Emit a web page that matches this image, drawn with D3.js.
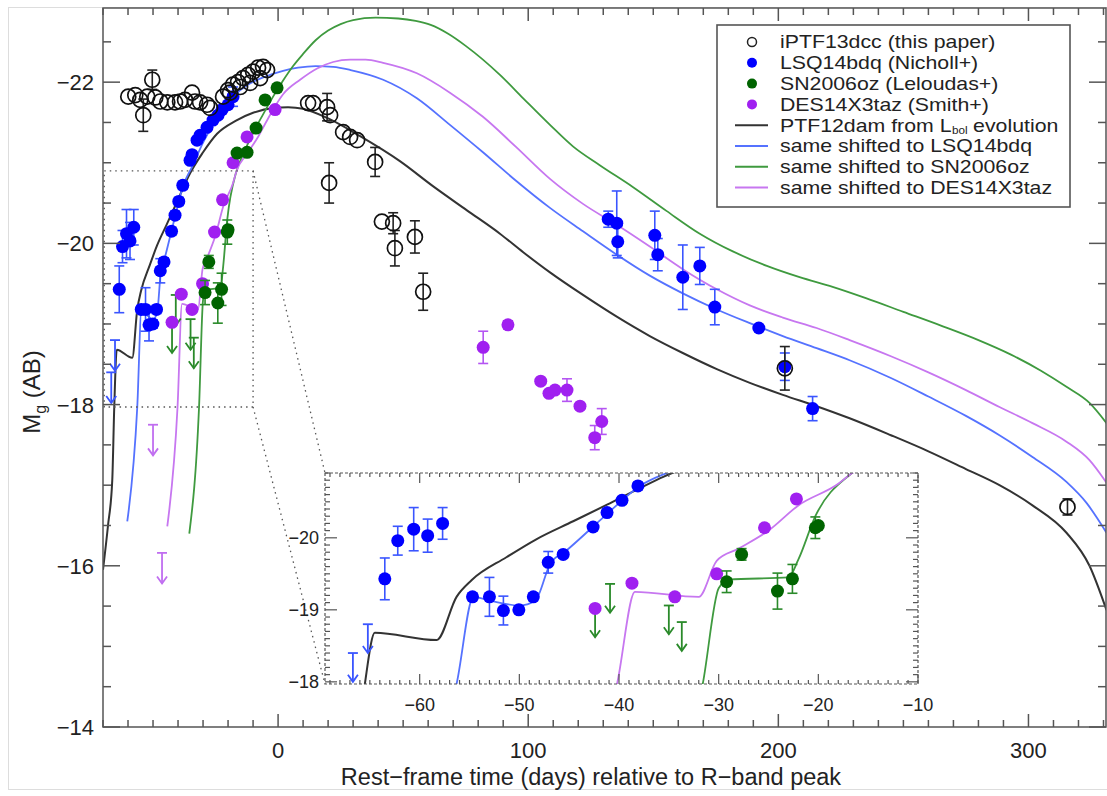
<!DOCTYPE html>
<html><head><meta charset="utf-8">
<script src="https://cdn.jsdelivr.net/npm/d3@7"></script>
<style>body{margin:0;background:#fff} svg{display:block} text{font-family:"Liberation Sans",Arial,Helvetica,sans-serif}</style>
</head><body><svg id="c" width="1107" height="796"></svg>
<script>
// ---------------- DATA ----------------
// iPTF13dcc (open black circles): day, mag, err
const ptfDays = [-59.9,-57.1,-55.1,-52.3,-50.3,-53.9,-49.1,-47.1,-44.3,-41.2,-39.2,-37.2,-34.4,-33.2,-31.2,-28.4,-27.2,-22.0,-20.0,-18.0,-16.0,-14.0,-12.0,-10.0,-8.0,-6.0,-4.4,-7.2,-11.2,-15.2,-19.2,
  12,14,19.6,20.8,26,28.8,31.6,38.8,20.4,41.5,46,46.7,54.7,58,202.6,315.6];
const ptfMags = [-21.82,-21.84,-21.78,-21.82,-22.03,-21.59,-21.81,-21.76,-21.75,-21.75,-21.76,-21.78,-21.87,-21.76,-21.75,-21.72,-21.68,-21.82,-21.90,-21.97,-22.0,-22.05,-22.09,-22.13,-22.18,-22.19,-22.15,-22.05,-21.99,-21.94,-21.87,
  -21.74,-21.74,-21.69,-21.59,-21.38,-21.32,-21.28,-21.01,-20.75,-20.27,-20.25,-19.94,-20.08,-19.40,-18.45,-16.73];
const ptfErrs = [0,0,0,0,0.12,0.2,0,0,0,0,0,0,0,0,0,0,0,0,0,0,0,0,0,0,0,0,0,0,0,0,0,
  0,0,0.17,0,0,0,0,0.18,0.25,0,0.13,0.22,0.2,0.23,0.27,0.1];

// LSQ14bdq (blue filled)
const lsqDays = [-63.5,-62.2,-60.6,-59.2,-57.7,-54.7,-53.0,-51.6,-50.05,-48.6,-47.1,-45.6,-42.6,-41.2,-39.7,-38.1,-35.2,-34.4,-32.4,-31.2,-28.4,-26.0,-24.0,-22.4,-20.0,-18.0,
  132,135.4,135.8,150.6,151.8,161.8,168.6,174.6,192.2,202.6,213.7];
const lsqMags = [-19.43,-19.96,-20.12,-20.03,-20.2,-19.18,-19.18,-18.99,-19.0,-19.18,-19.66,-19.77,-20.15,-20.35,-20.52,-20.72,-21.03,-21.10,-21.28,-21.34,-21.44,-21.53,-21.59,-21.66,-21.72,-21.82,
  -20.30,-20.25,-20.02,-20.10,-19.86,-19.58,-19.72,-19.21,-18.95,-18.47,-17.95];
const lsqErrs = [0.29,0.2,0.3,0.23,0.22,0.05,0.27,0.2,0.05,0.05,0.15,0.05,0.05,0.05,0.05,0.05,0,0,0,0,0,0,0,0,0,0.12,
  0.1,0.4,0.2,0.3,0.2,0.4,0.23,0.22,0,0.17,0.15];
const lsqLimDays = [-66.7,-65.2];
const lsqLimMags = [-18.4,-18.8];

// SN2006oz (green filled)
const ozDays = [-29.2,-27.7,-24.1,-22.6,-20.3,-20.0,-16.4,-12.4,-8.8,-5.2,-0.4];
const ozMags = [-19.39,-19.77,-19.26,-19.43,-20.14,-20.17,-21.12,-21.13,-21.43,-21.78,-21.93];
const ozErrs = [0.15,0.08,0.25,0.2,0.15,0,0,0,0,0,0];
const ozLimDays = [-42.4,-40.9,-35.0,-33.7];
const ozLimMags = [-19.02,-19.36,-19.06,-18.83];

// DES14X3taz (purple filled)
const desDays = [-42.4,-38.7,-34.4,-30.2,-25.4,-22.2,-18.0,-12.4,-1.2,82,91.9,105,108.3,110.7,115.5,120.7,126.6,129.4];
const desMags = [-19.02,-19.37,-19.18,-19.5,-20.14,-20.54,-21.0,-21.32,-21.66,-18.71,-18.99,-18.29,-18.14,-18.18,-18.18,-17.98,-17.59,-17.79];
const desErrs = [0,0,0,0,0,0,0,0,0,0.2,0.05,0,0,0,0.14,0,0.15,0.16];
const desLimDays = [-50.0,-46.4];
const desLimMags = [-17.75,-16.16];

// model curves: [day, mag]
const ptf12damCurve = [[-70,-15.95],[-68,-16.5],[-66.3,-17.06],[-65.5,-17.97],[-64.5,-18.68],[-58.3,-18.58],[-56.3,-19.18],[-54.8,-19.41],[-51.3,-19.73],[-48.3,-19.98],[-44.6,-20.23],[-41.2,-20.46],[-37.9,-20.69],[-35.5,-20.85],[-30,-21.13],[-24.4,-21.36],[-17,-21.52],[-10,-21.62],[-2,-21.68],[4,-21.69],[10,-21.67],[20,-21.55],[32.8,-21.33],[48.7,-21.02],[61.9,-20.71],[75.5,-20.41],[88.7,-20.12],[98,-19.89],[108.7,-19.64],[121.9,-19.36],[135.4,-19.09],[148.6,-18.85],[161.8,-18.64],[175.4,-18.44],[188.6,-18.27],[201.8,-18.12],[215.3,-17.98],[228.5,-17.83],[245,-17.62],[260,-17.42],[275,-17.2],[288.4,-17.0],[301.6,-16.75],[315.2,-16.41],[324.4,-16.0],[331.2,-15.45]];
const shiftLsqCurve = [[-60.3,-16.55],[-56.3,-17.97],[-54.6,-19.18],[-53.0,-19.13],[-50.0,-19.06],[-48.4,-19.13],[-46.9,-19.64],[-45.3,-19.82],[-41.6,-20.28],[-37.9,-20.72],[-34.4,-20.95],[-30,-21.25],[-24,-21.58],[-18,-21.82],[-12,-21.97],[-5,-22.07],[2,-22.14],[8,-22.18],[15,-22.2],[22,-22.19],[29,-22.15],[42,-22.03],[55.5,-21.8],[68.7,-21.47],[81.9,-21.13],[95,-20.78],[108.7,-20.44],[121.9,-20.15],[135.4,-19.86],[148.6,-19.6],[161.8,-19.38],[175.4,-19.18],[188.6,-19.01],[201.8,-18.85],[215.3,-18.7],[228.5,-18.55],[245,-18.33],[260,-18.1],[275,-17.86],[288.4,-17.62],[301.6,-17.35],[315.2,-17.04],[323.2,-16.78],[331.2,-16.41]];
const shiftOzCurve = [[-35.5,-16.4],[-31.6,-17.97],[-30.0,-19.3],[-29.0,-19.42],[-23.0,-19.45],[-22.0,-19.7],[-20.3,-20.3],[-16.8,-20.88],[-14,-21.1],[-10,-21.37],[-6,-21.6],[-2,-21.82],[2,-22.02],[6,-22.2],[10,-22.35],[15,-22.52],[20,-22.64],[25,-22.72],[30,-22.77],[39,-22.8],[48,-22.79],[55,-22.76],[61,-22.71],[68,-22.6],[75,-22.45],[88.7,-22.09],[98,-21.8],[108.7,-21.47],[118,-21.2],[128.6,-20.97],[141.8,-20.7],[155.4,-20.4],[168.6,-20.12],[181.8,-19.9],[195.4,-19.72],[208.5,-19.58],[221.7,-19.46],[235,-19.32],[250,-19.15],[265,-18.98],[280,-18.8],[293,-18.62],[305,-18.42],[315.2,-18.22],[324.4,-18.02],[331.2,-17.77]];
const shiftDesCurve = [[-44.3,-16.49],[-40.2,-17.97],[-38.4,-19.25],[-32.0,-19.18],[-30.2,-19.68],[-28,-19.85],[-25,-20.1],[-22,-20.45],[-18,-20.75],[-16.8,-20.88],[-12,-21.13],[-8.4,-21.3],[-4,-21.55],[2,-21.85],[8.8,-22.03],[15.6,-22.17],[22,-22.25],[28.8,-22.28],[35,-22.28],[42,-22.24],[55.5,-22.11],[68.7,-21.87],[81.9,-21.57],[95,-21.2],[108.7,-20.8],[121.9,-20.49],[135.4,-20.23],[148.6,-19.96],[161.8,-19.68],[175.4,-19.43],[188.6,-19.23],[201.8,-19.08],[215.3,-18.95],[228.5,-18.8],[245,-18.6],[260,-18.4],[275,-18.18],[288.4,-17.97],[301.6,-17.77],[315.2,-17.54],[324.4,-17.31],[331.2,-17.03]];

// ticks & labels
const xMajorTicks = [0,100,200,300];
const yMajorTicks = [-22,-20,-18,-16,-14];
const insetXTicks = [-60,-50,-40,-30,-20,-10];
const insetYTicks = [-20,-19,-18];
const legendLabels = ["iPTF13dcc (this paper)","LSQ14bdq (Nicholl+)","SN2006oz (Leloudas+)","DES14X3taz (Smith+)","PTF12dam from L","same shifted to LSQ14bdq","same shifted to SN2006oz","same shifted to DES14X3taz"];
const xTitle = "Rest\u2212frame time (days) relative to R\u2212band peak";

// ---------------- STYLE ----------------
const C = {
  blue:"#0000ff", blueErr:"#3a55ff", green:"#006400", greenErr:"#2a8a2a", purple:"#a020f0", purpleErr:"#b455f2", purpleLim:"#c06ef0",
  lBlack:"#333333", lBlue:"#5572ff", lGreen:"#3f9a3f", lPurple:"#c777f0", axis:"#555"
};

const svg = d3.select("#c");
svg.append("rect").attr("x",8.5).attr("y",7.5).attr("width",1120).attr("height",782).attr("fill","none").attr("stroke","#ddd").attr("stroke-width",1);

const X0=103, X1=1106, Y0=8, Y1=727;
const xM = d3.scaleLinear().domain([-70,331]).range([X0,X1]);
const yM = d3.scaleLinear().domain([-14,-22.92]).range([Y1,Y0]);

const IX0=325, IX1=918, IY0=473, IY1=684;
const xI = d3.scaleLinear().domain([-69.5,-10]).range([IX0,IX1]);
const yI = d3.scaleLinear().domain([-17.97,-20.9]).range([IY1,IY0]);

const defs = svg.append("defs");
defs.append("clipPath").attr("id","clipM").append("rect").attr("x",X0).attr("y",Y0).attr("width",X1-X0).attr("height",Y1-Y0);
defs.append("clipPath").attr("id","clipI").append("rect").attr("x",IX0).attr("y",IY0).attr("width",IX1-IX0).attr("height",IY1-IY0);

function zip3(a,b,c){return a.map((d,i)=>({d:d,m:b[i],e:c?c[i]:0}));}

function drawPanel(g, xs, ys, r, limLen){
  const line = d3.line().x(d=>xs(d[0])).y(d=>ys(d[1])).curve(d3.curveMonotoneX);
  g.append("path").attr("d",line(ptf12damCurve)).attr("fill","none").attr("stroke",C.lBlack).attr("stroke-width",2);
  g.append("path").attr("d",line(shiftLsqCurve)).attr("fill","none").attr("stroke",C.lBlue).attr("stroke-width",1.8);
  g.append("path").attr("d",line(shiftOzCurve)).attr("fill","none").attr("stroke",C.lGreen).attr("stroke-width",1.8);
  g.append("path").attr("d",line(shiftDesCurve)).attr("fill","none").attr("stroke",C.lPurple).attr("stroke-width",1.8);

  function errs(data, color){
    const ge = g.append("g").attr("stroke",color).attr("stroke-width",1.6);
    data.filter(p=>p.e>0).forEach(p=>{
      const x=xs(p.d), yt=ys(p.m-p.e), yb=ys(p.m+p.e);
      ge.append("line").attr("x1",x).attr("x2",x).attr("y1",yt).attr("y2",yb);
      ge.append("line").attr("x1",x-5).attr("x2",x+5).attr("y1",yt).attr("y2",yt);
      ge.append("line").attr("x1",x-5).attr("x2",x+5).attr("y1",yb).attr("y2",yb);
    });
  }
  function lims(days, mags, color){
    const gl = g.append("g").attr("stroke",color).attr("stroke-width",1.8).attr("fill","none");
    days.forEach((d,i)=>{
      const x=xs(d), y=ys(mags[i]), yt=ys(mags[i]+limLen);
      gl.append("line").attr("x1",x-5).attr("x2",x+5).attr("y1",y).attr("y2",y);
      gl.append("line").attr("x1",x).attr("x2",x).attr("y1",y).attr("y2",yt);
      gl.append("path").attr("d",`M${x-5},${yt-7}L${x},${yt}L${x+5},${yt-7}`);
    });
  }
  function dots(data, color){
    g.append("g").selectAll("circle").data(data).join("circle")
      .attr("cx",p=>xs(p.d)).attr("cy",p=>ys(p.m)).attr("r",r).attr("fill",color);
  }
  const des = zip3(desDays,desMags,desErrs), oz = zip3(ozDays,ozMags,ozErrs), lsq = zip3(lsqDays,lsqMags,lsqErrs), ptf = zip3(ptfDays,ptfMags,ptfErrs);
  lims(desLimDays,desLimMags,C.purpleLim);
  lims(ozLimDays,ozLimMags,C.greenErr);
  lims(lsqLimDays,lsqLimMags,C.blueErr);
  errs(des,C.purpleErr); dots(des,C.purple);
  errs(oz,C.greenErr); dots(oz,C.green);
  errs(lsq,C.blueErr); dots(lsq,C.blue);
  const gp = g.append("g");
  ptf.filter(p=>p.e>0).forEach(p=>{
    const x=xs(p.d), yt=ys(p.m-p.e), yb=ys(p.m+p.e);
    gp.append("line").attr("x1",x).attr("x2",x).attr("y1",yt).attr("y2",yb).attr("stroke","#222").attr("stroke-width",1.6);
    gp.append("line").attr("x1",x-5).attr("x2",x+5).attr("y1",yt).attr("y2",yt).attr("stroke","#222").attr("stroke-width",1.6);
    gp.append("line").attr("x1",x-5).attr("x2",x+5).attr("y1",yb).attr("y2",yb).attr("stroke","#222").attr("stroke-width",1.6);
  });
  gp.selectAll("circle").data(ptf).join("circle").attr("cx",p=>xs(p.d)).attr("cy",p=>ys(p.m)).attr("r",r+1)
    .attr("fill","none").attr("stroke","#111").attr("stroke-width",1.7);
}

// main panel
const gMain = svg.append("g").attr("clip-path","url(#clipM)");
drawPanel(gMain, xM, yM, 6.5, 0.38);

// dotted zoom box
const dz = svg.append("g").attr("stroke","#555").attr("stroke-width",1.3).attr("stroke-dasharray","1.5,4").attr("fill","none");
dz.append("rect").attr("x",xM(-69.5)).attr("y",yM(-20.9)).attr("width",xM(-10)-xM(-69.5)).attr("height",yM(-17.97)-yM(-20.9));
dz.append("line").attr("x1",xM(-10)).attr("y1",yM(-20.9)).attr("x2",IX0).attr("y2",IY0);
dz.append("line").attr("x1",xM(-10)).attr("y1",yM(-17.97)).attr("x2",IX0).attr("y2",IY1);

// main axes
const ax = svg.append("g").attr("stroke",C.axis).attr("stroke-width",1.5);
ax.append("rect").attr("x",X0).attr("y",Y0).attr("width",X1-X0).attr("height",Y1-Y0).attr("fill","none");
d3.range(-70,332,10).forEach(t=>{
  const major = xMajorTicks.includes(t), L = major?13:7, x=xM(t);
  ax.append("line").attr("x1",x).attr("x2",x).attr("y1",Y1).attr("y2",Y1-L);
  ax.append("line").attr("x1",x).attr("x2",x).attr("y1",Y0).attr("y2",Y0+L);
});
d3.range(-22.5,-13.9,0.5).forEach(t=>{
  const major = yMajorTicks.includes(t), L = major?17:8, y=yM(t);
  ax.append("line").attr("x1",X0).attr("x2",X0+L).attr("y1",y).attr("y2",y);
  ax.append("line").attr("x1",X1).attr("x2",X1-L).attr("y1",y).attr("y2",y);
});
const lab = svg.append("g").attr("fill","#222").attr("font-size",22);
xMajorTicks.forEach(t=>lab.append("text").attr("x",xM(t)).attr("y",758).attr("text-anchor","middle").text(t));
yMajorTicks.forEach(t=>lab.append("text").attr("x",94).attr("y",yM(t)+8).attr("text-anchor","end").text("\u2212"+Math.abs(t)));
lab.append("text").attr("x",591).attr("y",785).attr("text-anchor","middle").attr("font-size",23.5).text(xTitle);
const yt = lab.append("text").attr("transform","translate(40,392) rotate(-90)").attr("text-anchor","middle").attr("font-size",24);
yt.append("tspan").text("M");
yt.append("tspan").attr("font-size",16).attr("dy",6).text("g");
yt.append("tspan").attr("dy",-6).text(" (AB)");

// inset
svg.append("rect").attr("x",IX0).attr("y",IY0).attr("width",IX1-IX0).attr("height",IY1-IY0).attr("fill","#fff");
const gIn = svg.append("g").attr("clip-path","url(#clipI)");
drawPanel(gIn, xI, yI, 6.5, 0.4);
const ai = svg.append("g").attr("stroke","#555").attr("stroke-width",1.2);
ai.append("rect").attr("x",IX0).attr("y",IY0).attr("width",IX1-IX0).attr("height",IY1-IY0).attr("fill","none").attr("stroke-dasharray","3,2");
d3.range(-69,-9.9,1).forEach(t=>{
  const major = insetXTicks.includes(t), L = major?10:4, x=xI(t);
  ai.append("line").attr("x1",x).attr("x2",x).attr("y1",IY1).attr("y2",IY1-L);
  ai.append("line").attr("x1",x).attr("x2",x).attr("y1",IY0).attr("y2",IY0+L);
});
d3.range(-20.9,-17.95,0.1).forEach(t=>{
  t = Math.round(t*10)/10;
  const major = insetYTicks.includes(t), L = major?12:5, y=yI(t);
  ai.append("line").attr("x1",IX0).attr("x2",IX0+L).attr("y1",y).attr("y2",y);
  ai.append("line").attr("x1",IX1).attr("x2",IX1-L).attr("y1",y).attr("y2",y);
});
const il = svg.append("g").attr("fill","#222").attr("font-size",18);
insetXTicks.forEach(t=>il.append("text").attr("x",xI(t)).attr("y",711).attr("text-anchor","middle").text("\u2212"+Math.abs(t)));
insetYTicks.forEach(t=>il.append("text").attr("x",319).attr("y",yI(t)+6).attr("text-anchor","end").text("\u2212"+Math.abs(t)));

// legend
const lg = svg.append("g");
lg.append("rect").attr("x",717).attr("y",25).attr("width",353).attr("height",182).attr("fill","#fff").attr("stroke","#555").attr("stroke-width",1.6);
const symColors = [null,C.blue,C.green,C.purple];
const lineColors = [C.lBlack,C.lBlue,C.lGreen,C.lPurple];
const SX = 1.17;
legendLabels.forEach((t,i)=>{
  const y = 42 + i*20.8;
  if(i===0) lg.append("circle").attr("cx",752).attr("cy",y).attr("r",4.5).attr("fill","none").attr("stroke","#222").attr("stroke-width",1.5);
  else if(i<4) lg.append("circle").attr("cx",752).attr("cy",y).attr("r",5).attr("fill",symColors[i]);
  else lg.append("line").attr("x1",735).attr("x2",768).attr("y1",y).attr("y2",y).attr("stroke",lineColors[i-4]).attr("stroke-width",2);
  const tx = lg.append("text").attr("transform",`translate(780,${y+6.3}) scale(${SX},1)`).attr("font-size",18.2).attr("fill","#222").text(t);
  if(i===4){
    const w1 = tx.node().getComputedTextLength()*SX;
    const sub = lg.append("text").attr("transform",`translate(${780+w1+0.5},${y+8.5}) scale(${SX},1)`).attr("font-size",10).attr("fill","#222").text("bol");
    const w2 = sub.node().getComputedTextLength()*SX;
    lg.append("text").attr("transform",`translate(${780+w1+w2+6},${y+6.3}) scale(${SX},1)`).attr("font-size",18.2).attr("fill","#222").text("evolution");
  }
});
</script></body></html>
